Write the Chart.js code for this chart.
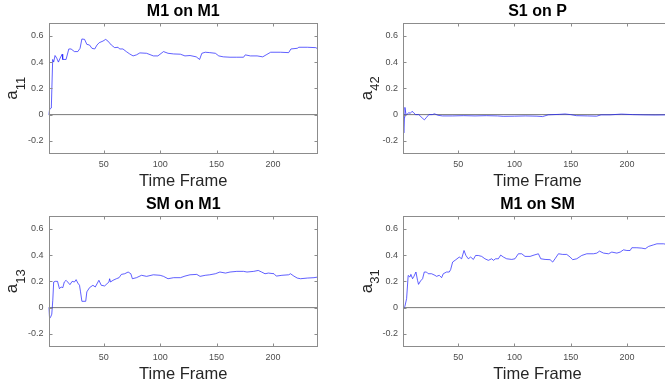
<!DOCTYPE html>
<html>
<head>
<meta charset="utf-8">
<script src="https://cdn.jsdelivr.net/npm/chart.js@4.4.1/dist/chart.umd.min.js"></script>
<style>
html, body { margin: 0; padding: 0; background: #fff; overflow: hidden; width: 665px; height: 387px; }
canvas { position: absolute; }
</style>
</head>
<body>
<canvas id="p11" width="333" height="193" style="left:0;top:0"></canvas>
<canvas id="p42" width="354" height="193" style="left:333px;top:0"></canvas>
<canvas id="p13" width="333" height="193" style="left:0;top:193px"></canvas>
<canvas id="p31" width="354" height="193" style="left:333px;top:193px"></canvas>
<script>
const FONT = '"Liberation Sans", Arial, sans-serif';

const xTicks = [50, 100, 150, 200];
const yTicks = [-0.2, 0, 0.2, 0.4, 0.6];
const refFrames = [1, 240];
const refValues = [0, 0];

// M1 on M1
const frames11 = [1, 2, 3.5, 4.7, 5.6, 6.8, 8.3, 9.8, 11.3, 13.1, 13.6, 16.6, 19, 21, 24, 27, 29, 30.6, 33, 35,
  37.4, 39.5, 42, 44, 46, 49.3, 51.7, 53.7, 56.7, 59.7, 62.7, 64, 67, 70, 73, 76, 79, 82, 88, 94,
  98, 103, 107, 112, 118, 122, 126.5, 132, 135, 137, 140, 144, 149, 152, 156, 162, 168, 174, 175.5, 180,
  186, 191, 194, 198, 206.7, 214, 216, 221.6, 223, 230.5, 238, 240];
const values11 = [0, 0.04, 0.05, 0.42, 0.40, 0.45, 0.43, 0.40, 0.43, 0.46, 0.42, 0.42, 0.50, 0.50, 0.48, 0.48, 0.505, 0.576, 0.573, 0.535,
  0.53, 0.505, 0.50, 0.53, 0.548, 0.56, 0.573, 0.56, 0.53, 0.51, 0.513, 0.50, 0.50, 0.48, 0.462, 0.447, 0.455, 0.47, 0.467, 0.447,
  0.447, 0.48, 0.467, 0.462, 0.46, 0.447, 0.45, 0.44, 0.42, 0.467, 0.475, 0.472, 0.467, 0.447, 0.44, 0.437, 0.437, 0.437, 0.455, 0.447,
  0.447, 0.44, 0.455, 0.475, 0.475, 0.472, 0.50, 0.505, 0.513, 0.513, 0.51, 0.50];

// S1 on P
const frames42 = [1, 1.6, 2.2, 2.7, 3.5, 4.5, 6, 7.5, 9, 10.5, 12, 15, 18, 20, 22, 24, 27, 29, 32, 36,
  45, 55, 65, 75, 85, 90, 100, 110, 120, 125, 130, 140, 145, 150, 155, 165, 173, 177, 185, 195,
  205, 215, 225, 235, 240];
const values42 = [0, -0.14, -0.02, 0.055, 0.01, 0, 0.015, 0.01, 0.025, 0.015, 0, 0, -0.025, -0.04, -0.02, 0, 0, 0.006, -0.005, -0.01,
  -0.01, -0.008, -0.01, -0.008, -0.01, -0.013, -0.012, -0.01, -0.012, -0.015, -0.002, 0.002, 0.005, 0, -0.008, -0.01, -0.012, -0.002, -0.002, 0.004,
  0, -0.002, -0.003, -0.002, -0.002];

// SM on M1
const frames13 = [1, 1.8, 2.7, 3.9, 4.8, 5.6, 7, 9, 10.7, 12.2, 13.7, 15, 16.6, 18, 20, 22, 24, 25.5, 27, 28.5,
  29.4, 30.6, 34, 35, 37.4, 40.4, 42.5, 45.7, 47.8, 50.8, 52.9, 54.6, 55.2, 56, 58.2, 61.2, 63.6, 65.6, 68.6, 71.6,
  74, 75.4, 79, 83.5, 88, 94, 100, 103, 107, 112, 118, 122, 126.5, 132.5, 135.4, 140, 144, 149, 153, 158,
  162, 168, 174, 177, 183, 187, 190, 193, 196, 201, 203, 208, 214, 215.6, 218.6, 221.6, 224.5, 230.5, 236.4, 240];
const values13 = [0, -0.07, -0.076, -0.05, 0.056, 0.195, 0.2, 0.2, 0.144, 0.157, 0.152, 0.195, 0.208, 0.195, 0.175, 0.2, 0.195, 0.213, 0.187, 0.17,
  0.12, 0.048, 0.048, 0.12, 0.152, 0.17, 0.157, 0.208, 0.17, 0.165, 0.182, 0.195, 0.22, 0.195, 0.208, 0.22, 0.228, 0.253, 0.258, 0.271,
  0.258, 0.22, 0.228, 0.246, 0.238, 0.25, 0.246, 0.238, 0.22, 0.228, 0.228, 0.24, 0.25, 0.253, 0.238, 0.246, 0.25, 0.258, 0.271, 0.263,
  0.271, 0.276, 0.276, 0.271, 0.276, 0.283, 0.271, 0.258, 0.263, 0.258, 0.24, 0.246, 0.25, 0.258, 0.24, 0.225, 0.22, 0.225, 0.228, 0.233];

// M1 on SM
const frames31 = [1, 2.7, 4.2, 5.6, 7.1, 8, 9.5, 10.7, 12.5, 13.9, 14.8, 16.6, 18.4, 19.9, 21.9, 23.4, 26.4, 29.4, 30.8, 33.2,
  35.3, 36.8, 39.7, 42.1, 43.3, 45.1, 48, 51, 53.1, 55.2, 56.9, 59, 61.1, 63.5, 65.5, 67.9, 70.9, 73.8, 76.8, 79.8,
  81.3, 83.3, 85.7, 87.8, 90.2, 93.1, 97.6, 100.5, 103.5, 106.5, 109.4, 113.9, 117.4, 121.3, 123.4, 127.2, 131.7, 134, 136.1, 139.1,
  142.9, 146.5, 149.5, 151.8, 155.4, 159.8, 164.3, 170.2, 173.2, 175.6, 179.2, 183.6, 186.5, 191, 194, 196.9, 199.9, 202.8, 204.3, 208.8,
  213.2, 216.2, 219.2, 223.6, 226.6, 232.5, 236, 240];
const values31 = [-0.008, 0.01, 0.068, 0.245, 0.233, 0.253, 0.22, 0.238, 0.271, 0.208, 0.177, 0.203, 0.22, 0.271, 0.271, 0.258, 0.258, 0.246, 0.238, 0.246,
  0.228, 0.258, 0.271, 0.271, 0.289, 0.347, 0.365, 0.385, 0.372, 0.435, 0.397, 0.372, 0.385, 0.367, 0.397, 0.397, 0.39, 0.372, 0.36, 0.372,
  0.36, 0.372, 0.372, 0.40, 0.385, 0.372, 0.367, 0.372, 0.41, 0.41, 0.39, 0.39, 0.40, 0.41, 0.372, 0.367, 0.365, 0.347, 0.372, 0.41,
  0.405, 0.405, 0.385, 0.365, 0.372, 0.397, 0.41, 0.41, 0.415, 0.43, 0.415, 0.41, 0.423, 0.415, 0.423, 0.44, 0.435, 0.435, 0.456, 0.456,
  0.453, 0.448, 0.466, 0.478, 0.486, 0.486, 0.48, 0.478];

// box round the axes with inward ticks, matlab style
const boxPlugin = {
  id: 'matlabBox',
  afterDraw(chart) {
    const { ctx, chartArea: a, scales } = chart;
    const l = Math.round(a.left) + 0.5, r = Math.round(a.right) - 0.5;
    const t = Math.round(a.top) + 0.5, b = Math.round(a.bottom) - 0.5;
    ctx.save();
    ctx.strokeStyle = '#8c8c8c';
    ctx.lineWidth = 1;
    ctx.strokeRect(l, t, r - l, b - t);
    ctx.beginPath();
    xTicks.forEach(v => {
      const x = Math.round(scales.x.getPixelForValue(v)) + 0.5;
      ctx.moveTo(x, b); ctx.lineTo(x, b - 3);
      ctx.moveTo(x, t); ctx.lineTo(x, t + 3);
    });
    yTicks.forEach(v => {
      const y = Math.round(scales.y.getPixelForValue(v)) + 0.5;
      ctx.moveTo(l, y); ctx.lineTo(l + 3, y);
      ctx.moveTo(r, y); ctx.lineTo(r - 3, y);
    });
    ctx.stroke();
    ctx.restore();
  }
};

// y label with a subscript, e.g. a_11
const subLabelPlugin = {
  id: 'subLabel',
  afterDraw(chart, args, opts) {
    const { ctx, chartArea: a } = chart;
    const cy = (a.top + a.bottom) / 2;
    ctx.save();
    ctx.translate(a.left - 31.5, cy);
    ctx.rotate(-Math.PI / 2);
    ctx.fillStyle = '#262626';
    ctx.textBaseline = 'alphabetic';
    ctx.textAlign = 'left';
    ctx.font = '17px ' + FONT;
    const w1 = ctx.measureText(opts.main).width;
    ctx.font = '13px ' + FONT;
    const w2 = ctx.measureText(opts.sub).width;
    const x0 = -(w1 + w2) / 2;
    ctx.font = '17px ' + FONT;
    ctx.fillText(opts.main, x0, 0);
    ctx.font = '13px ' + FONT;
    ctx.fillText(opts.sub, x0 + w1, 7.5);
    ctx.restore();
  }
};

function makePanel(id, title, sub, frames, values, axisWidth) {
  new Chart(document.getElementById(id), {
    type: 'line',
    data: {
      datasets: [
        {
          data: frames.map((t, i) => ({ x: t, y: values[i] })),
          borderColor: 'rgba(30,30,255,0.7)',
          borderWidth: 1,
          pointRadius: 0,
          tension: 0
        },
        {
          data: refFrames.map((t, i) => ({ x: t, y: refValues[i] })),
          borderColor: '#7a7a7a',
          borderWidth: 1,
          pointRadius: 0
        }
      ]
    },
    options: {
      responsive: false,
      animation: false,
      devicePixelRatio: 1,
      layout: { padding: { top: 0, left: 0, right: 15, bottom: 0 } },
      plugins: {
        legend: { display: false },
        tooltip: { enabled: false },
        title: {
          display: true,
          text: title,
          fullSize: false,
          color: '#000',
          font: { family: FONT, size: 16, weight: 'bold' },
          padding: { top: 1.5, bottom: 2 }
        },
        subLabel: { main: 'a', sub: sub }
      },
      scales: {
        x: {
          type: 'linear',
          min: 1,
          max: 240,
          grid: { display: false, drawTicks: false },
          border: { display: false },
          afterBuildTicks: s => { s.ticks = xTicks.map(v => ({ value: v })); },
          afterFit: s => { s.height = 193 - 154; },
          ticks: { color: '#4d4d4d', font: { family: FONT, size: 9 }, padding: 5, maxRotation: 0 },
          title: {
            display: true,
            text: 'Time Frame',
            color: '#262626',
            font: { family: FONT, size: 16.5 },
            padding: { top: 0, bottom: 2 }
          }
        },
        y: {
          type: 'linear',
          min: -0.3,
          max: 0.7,
          grid: { display: false, drawTicks: false },
          border: { display: false },
          afterBuildTicks: s => { s.ticks = yTicks.map(v => ({ value: v })); },
          afterFit: s => { s.width = axisWidth; },
          ticks: {
            color: '#4d4d4d',
            font: { family: FONT, size: 9 },
            padding: 5,
            callback: v => (v === 0 ? '0' : String(v))
          }
        }
      }
    },
    plugins: [boxPlugin, subLabelPlugin]
  });
}

makePanel('p11', 'M1 on M1', '11', frames11, values11, 48.5);
makePanel('p42', 'S1 on P', '42', frames42, values42, 70);
makePanel('p13', 'SM on M1', '13', frames13, values13, 48.5);
makePanel('p31', 'M1 on SM', '31', frames31, values31, 70);
</script>
</body>
</html>
